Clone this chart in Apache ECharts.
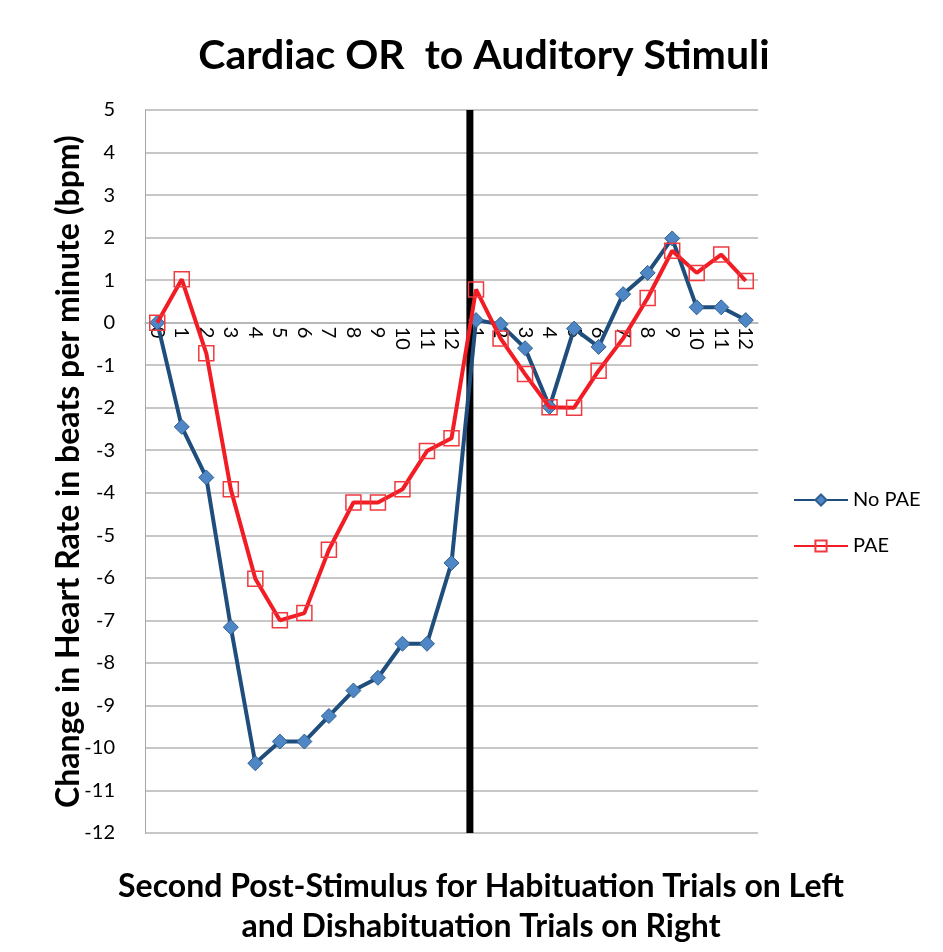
<!DOCTYPE html>
<html>
<head>
    <meta charset="utf-8">
    <title>Cardiac OR to Auditory Stimuli</title>
    <script src="https://cdn.jsdelivr.net/npm/echarts@6/dist/echarts.min.js"></script>
</head>
<body style="margin: 0;height:100%;background:#fff;">
<div id="main" style="width: 943px;height: 952px;"></div>
<script type="text/javascript">
    // seconds: habituation (left) then dishabituation (right)
    var seconds = ['0', '1', '2', '3', '4', '5', '6', '7', '8', '9', '10', '11', '12',
        '1', '2', '3', '4', '5', '6', '7', '8', '9', '10', '11', '12'];
    var noPAE = [0, -2.45, -3.64, -7.16, -10.36, -9.85, -9.85, -9.25, -8.65, -8.35, -7.55, -7.55, -5.65,
        0.06, -0.04, -0.6, -1.98, -0.14, -0.57, 0.67, 1.17, 1.98, 0.36, 0.36, 0.06];
    var PAE = [0, 1.02, -0.72, -3.92, -6.02, -7.0, -6.83, -5.34, -4.23, -4.23, -3.92, -3.02, -2.72,
        0.78, -0.37, -1.21, -1.99, -2.0, -1.13, -0.37, 0.58, 1.69, 1.17, 1.6, 0.98];
    // divider between the two trial blocks (in category units)
    var dividerX = 12.75;
    var yTicks = {min: -12, max: 5, interval: 1};

    var myChart = echarts.init(document.getElementById('main'));
    var font = 'Lato, "Open Sans", sans-serif';
    var rect = {left: 145, right: 185, top: 110, bottom: 119};
    var option = {
        animation: false,
        textStyle: {fontFamily: font},
        title: [{
            text: 'Cardiac OR  to Auditory Stimuli',
            left: 479,
            textAlign: 'center',
            top: 30,
            textStyle: {fontSize: 41, fontWeight: 'bold', color: '#000', fontFamily: font}
        }, {
            text: 'Second Post-Stimulus for Habituation Trials on Left\nand Dishabituation Trials on Right',
            left: 476,
            top: 862,
            textAlign: 'center',
            textStyle: {fontSize: 32, fontWeight: 'bold', color: '#000', lineHeight: 40, fontFamily: font}
        }],
        legend: {
            orient: 'vertical',
            left: 788,
            top: 485,
            itemWidth: 54,
            itemHeight: 14,
            itemGap: 26,
            textStyle: {fontSize: 20, color: '#000', fontFamily: font},
            data: ['No PAE', 'PAE']
        },
        grid: [rect, rect],
        xAxis: [{
            type: 'category',
            gridIndex: 0,
            data: seconds,
            boundaryGap: true,
            offset: 0,
            axisLine: {onZero: false, lineStyle: {color: '#b4b4b4', width: 1.5}},
            axisTick: {show: false},
            axisLabel: {rotate: -90, fontSize: 20, color: '#000', margin: 4, interval: 0, fontFamily: font},
            splitLine: {show: false}
        }, {
            type: 'value',
            gridIndex: 1,
            min: -0.5,
            max: 24.5,
            show: false
        }],
        yAxis: [{
            type: 'value',
            gridIndex: 0,
            min: yTicks.min,
            max: yTicks.max,
            interval: yTicks.interval,
            name: 'Change in Heart Rate in beats per minute (bpm)',
            nameLocation: 'middle',
            nameGap: 60,
            nameMoveOverlap: false,
            nameTextStyle: {fontSize: 32, fontWeight: 'bold', color: '#000', fontFamily: font},
            axisLine: {show: true, onZero: false, lineStyle: {color: '#a6a6a6', width: 1}},
            axisTick: {show: false},
            axisLabel: {fontSize: 20, color: '#000', margin: 30, fontFamily: font},
            splitLine: {lineStyle: {color: '#b4b4b4', width: 1.5}}
        }, {
            type: 'value',
            gridIndex: 1,
            min: yTicks.min,
            max: yTicks.max,
            show: false
        }],
        series: [{
            name: 'divider',
            type: 'line',
            xAxisIndex: 1,
            yAxisIndex: 1,
            data: [[dividerX, yTicks.min], [dividerX, yTicks.max]],
            symbol: 'none',
            lineStyle: {color: '#000', width: 7},
            silent: true,
            z: 1
        }, {
            name: 'No PAE',
            type: 'line',
            data: noPAE,
            symbol: 'diamond',
            symbolSize: 15,
            lineStyle: {color: '#1f4e7c', width: 4},
            itemStyle: {color: '#4f86c6', borderColor: '#2f5f8f', borderWidth: 1},
            z: 3
        }, {
            name: 'PAE',
            type: 'line',
            data: PAE,
            symbol: 'rect',
            symbolSize: 15,
            lineStyle: {color: '#f21c24', width: 4},
            itemStyle: {color: 'rgba(255,255,255,0)', borderColor: '#f03a40', borderWidth: 1.5},
            z: 4
        }]
    };
    myChart.setOption(option);

    // move the category labels up to the zero line, using the y scale
    var yBottom = myChart.convertToPixel({yAxisIndex: 0}, yTicks.min);
    var yZero = myChart.convertToPixel({yAxisIndex: 0}, 0);
    myChart.setOption({xAxis: [{offset: yZero - yBottom}]});
</script>
</body>
</html>
